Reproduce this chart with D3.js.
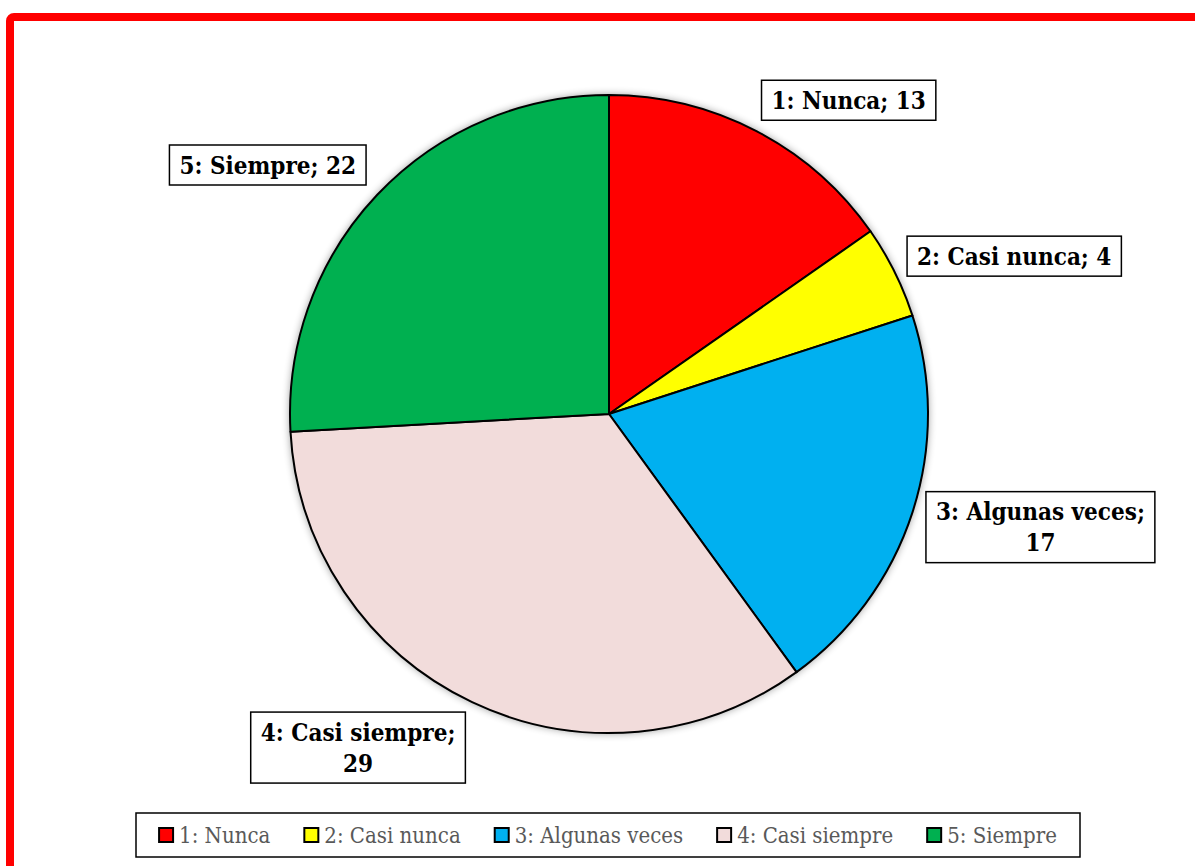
<!DOCTYPE html>
<html>
<head>
<meta charset="utf-8">
<title>Pie chart</title>
<script src="https://cdn.jsdelivr.net/npm/d3@7/dist/d3.min.js"></script>
<style>
  html, body { margin: 0; padding: 0; background: #fff; }
  svg { display: block; }
</style>
</head>
<body>
<script>
var categories = ['1: Nunca', '2: Casi nunca', '3: Algunas veces', '4: Casi siempre', '5: Siempre'];
var values = [13, 4, 17, 29, 22];
var colors = ['#FF0000', '#FFFF00', '#00B0F0', '#F2DCDB', '#00B050'];

// label nudges from the outer centroid (layout only)
var labelNudge = [[48, 54], [34, 27], [37, -15], [-73, -41], [-40, 36]];

var width = 1195, height = 866;
var cx = 609, cy = 414, radius = 319;
var labelFont = "'DejaVu Serif Condensed', 'DejaVu Serif', serif";
var legendFont = "'DejaVu Serif Condensed', 'DejaVu Serif', serif";

var svg = d3.select('body').append('svg')
    .attr('width', width)
    .attr('height', height);

var defs = svg.append('defs');
var f = defs.append('filter').attr('id', 'glow')
    .attr('x', '-10%').attr('y', '-10%').attr('width', '120%').attr('height', '120%');
f.append('feGaussianBlur').attr('in', 'SourceAlpha').attr('stdDeviation', 4).attr('result', 'b');
f.append('feComponentTransfer').attr('in', 'b').attr('result', 'b2')
  .append('feFuncA').attr('type', 'linear').attr('slope', 0.45);
var fm = f.append('feMerge');
fm.append('feMergeNode').attr('in', 'b2');
fm.append('feMergeNode').attr('in', 'SourceGraphic');

// red frame, runs off right and bottom edges
svg.append('rect')
    .attr('x', 10).attr('y', 17)
    .attr('width', width + 40).attr('height', height + 40)
    .attr('rx', 4)
    .attr('fill', 'none')
    .attr('stroke', '#FF0000')
    .attr('stroke-width', 8);

var data = categories.map(function (c, i) {
  return { label: c, value: values[i], color: colors[i], nudge: labelNudge[i] };
});

var pie = d3.pie().sort(null).value(function (d) { return d.value; });
var arcs = pie(data);

var arc = d3.arc().innerRadius(0).outerRadius(radius);
var outer = d3.arc().innerRadius(radius * 1.3).outerRadius(radius * 1.3);

var g = svg.append('g').attr('transform', 'translate(' + cx + ',' + cy + ')');

g.append('circle').attr('r', radius).attr('fill', '#fff').attr('filter', 'url(#glow)');

g.selectAll('path.slice')
  .data(arcs)
  .enter().append('path')
  .attr('class', 'slice')
  .attr('d', arc)
  .attr('fill', function (d) { return d.data.color; })
  .attr('stroke', '#000')
  .attr('stroke-width', 2)
  .attr('stroke-linejoin', 'round');

// data labels
var fs = 24, lineH = 31, padX = 10;
arcs.forEach(function (d) {
  var c = outer.centroid(d);
  var x = c[0] + d.data.nudge[0], y = c[1] + d.data.nudge[1];
  var lg = g.append('g').attr('transform', 'translate(' + x + ',' + y + ')');
  var full = d.data.label + '; ' + d.data.value;
  var t = lg.append('text')
      .attr('text-anchor', 'middle')
      .attr('font-family', labelFont)
      .attr('font-weight', 'bold')
      .attr('font-size', fs)
      .attr('fill', '#000')
      .text(full);
  var lines = [full];
  if (t.node().getComputedTextLength() > 215) {
    lines = [d.data.label + ';', String(d.data.value)];
  }
  t.text(null);
  var n = lines.length;
  t.selectAll('tspan').data(lines).enter().append('tspan')
    .attr('x', 0)
    .attr('y', function (l, i) { return (i - (n - 1) / 2) * lineH + fs * 0.36; })
    .text(function (l) { return l; });
  var bb = t.node().getBBox();
  var w = bb.width + padX * 2;
  var h = (n === 1 ? 40 : 71);
  lg.insert('rect', 'text')
    .attr('x', -w / 2).attr('y', -h / 2)
    .attr('width', w).attr('height', h)
    .attr('fill', '#fff')
    .attr('stroke', '#000')
    .attr('stroke-width', 1.5);
});

// legend
var legX = 136, legY = 813, legW = 944, legH = 44;
svg.append('rect')
    .attr('x', legX).attr('y', legY).attr('width', legW).attr('height', legH)
    .attr('fill', '#fff').attr('stroke', '#000').attr('stroke-width', 1.5);

var lgG = svg.append('g');
var sw = 14, gapT = 6, gapItem = 34, items = [];
var xpos = 0;
data.forEach(function (d) {
  var it = lgG.append('g');
  it.append('rect')
    .attr('x', 0).attr('y', -sw / 2)
    .attr('width', sw).attr('height', sw)
    .attr('fill', d.color).attr('stroke', '#000').attr('stroke-width', 2);
  var tx = it.append('text')
    .attr('x', sw + gapT).attr('dy', '0.35em')
    .attr('font-family', legendFont)
    .attr('font-size', 22)
    .attr('fill', '#595959')
    .text(d.label);
  var wItem = sw + gapT + tx.node().getComputedTextLength();
  items.push({ node: it, x: xpos });
  xpos += wItem + gapItem;
});
var totalW = xpos - gapItem;
var startX = legX + (legW - totalW) / 2;
items.forEach(function (it) {
  it.node.attr('transform', 'translate(' + (startX + it.x) + ',' + (legY + legH / 2) + ')');
});
</script>
</body>
</html>
